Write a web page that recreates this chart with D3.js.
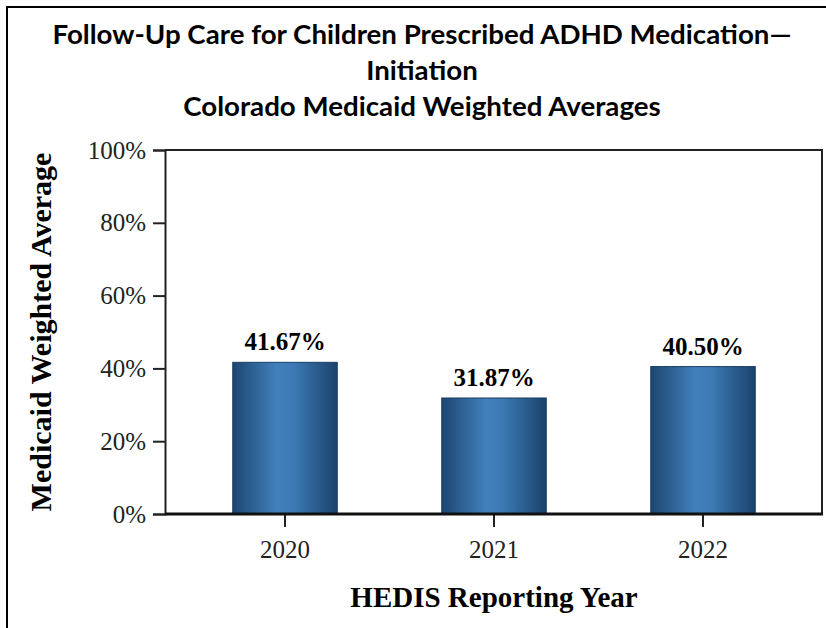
<!DOCTYPE html>
<html>
<head>
<meta charset="utf-8">
<script src="https://cdn.jsdelivr.net/npm/d3@7"></script>
<style>
  html, body { margin: 0; padding: 0; background: #fff; }
  svg { display: block; }
</style>
</head>
<body>
<svg id="chart" width="826" height="628"></svg>
<script>
// ---- data ----
const titleLines = ["Follow-Up Care for Children Prescribed ADHD Medication\u2014", "Initiation", "Colorado Medicaid Weighted Averages"];
const categories = ["2020", "2021", "2022"];
const values = [41.67, 31.87, 40.50];
const yTicks = [0, 20, 40, 60, 80, 100];
const yAxisTitle = "Medicaid Weighted Average";
const xAxisTitle = "HEDIS Reporting Year";

// ---- layout ----
const W = 826, H = 628;
const plot = { left: 165, right: 822, top: 150, bottom: 514 };
const serif = "'Liberation Serif', 'Times New Roman', Times, serif";

const svg = d3.select("#chart");

// gradient for bars
const defs = svg.append("defs");
const grad = defs.append("linearGradient").attr("id", "barGrad")
  .attr("x1", "0%").attr("x2", "100%").attr("y1", "0%").attr("y2", "0%");
grad.append("stop").attr("offset", "0%").attr("stop-color", "#1c4671");
grad.append("stop").attr("offset", "42%").attr("stop-color", "#4180bc");
grad.append("stop").attr("offset", "58%").attr("stop-color", "#3d7ab5");
grad.append("stop").attr("offset", "100%").attr("stop-color", "#1a426b");

// outer border (left and top visible)
svg.append("line").attr("x1", 7).attr("x2", 7).attr("y1", 6).attr("y2", H)
  .attr("stroke", "#000").attr("stroke-width", 2);
svg.append("line").attr("x1", 6).attr("x2", W).attr("y1", 7).attr("y2", 7)
  .attr("stroke", "#000").attr("stroke-width", 2);

// title
const titleY = [44, 80, 116];
const titleG = svg.append("g");
const tNodes = titleLines.map((t, i) => titleG.append("text")
  .attr("x", 422).attr("y", titleY[i])
  .attr("text-anchor", "middle")
  .attr("font-family", "Lato, 'Open Sans', sans-serif")
  .attr("font-weight", 700)
  .attr("font-size", 26)
  .attr("fill", "#000")
  .text(t));
const nat0 = tNodes[0].node().getComputedTextLength();
const factor = 739 / nat0;
tNodes.forEach(n => {
  const w = n.node().getComputedTextLength();
  n.attr("textLength", w * factor).attr("lengthAdjust", "spacingAndGlyphs");
});

// scales
const x = d3.scaleBand().domain(categories).range([180.5, 807.5])
  .paddingInner(0.5).paddingOuter(0.25);
const y = d3.scaleLinear().domain([0, 100]).range([plot.bottom, plot.top]);

// bars
svg.append("g").selectAll("rect").data(values).join("rect")
  .attr("x", (d, i) => x(categories[i]))
  .attr("width", x.bandwidth())
  .attr("y", d => y(d))
  .attr("height", d => y(0) - y(d))
  .attr("fill", "url(#barGrad)")
  .attr("stroke", "#1a3d62")
  .attr("stroke-width", 1);

// value labels
svg.append("g").selectAll("text").data(values).join("text")
  .attr("x", (d, i) => x(categories[i]) + x.bandwidth() / 2)
  .attr("y", d => y(d) - 12)
  .attr("text-anchor", "middle")
  .attr("font-family", serif)
  .attr("font-weight", 700)
  .attr("font-size", 25)
  .attr("fill", "#000")
  .text(d => d3.format(".2f")(d) + "%");

// frame (top and right)
svg.append("path")
  .attr("d", `M${plot.left},${plot.top}H${plot.right}V${plot.bottom}`)
  .attr("fill", "none").attr("stroke", "#222").attr("stroke-width", 2);

// y axis
const yAxis = d3.axisLeft(y).tickValues(yTicks).tickSize(12).tickPadding(7)
  .tickFormat(d => d + "%");
const yg = svg.append("g").attr("transform", `translate(${plot.left},0)`).call(yAxis);
yg.select(".domain").attr("stroke", "#222").attr("stroke-width", 2);
yg.selectAll(".tick line").attr("stroke", "#222").attr("stroke-width", 2);
yg.selectAll(".tick text").attr("font-family", serif).attr("font-size", 25)
  .attr("fill", "#222").attr("dy", "0.32em");

// x axis
const xAxis = d3.axisBottom(x).tickSize(13).tickPadding(13);
const xg = svg.append("g").attr("transform", `translate(0,${plot.bottom})`).call(xAxis);
xg.select(".domain").remove();
xg.selectAll(".tick line").attr("stroke", "#222").attr("stroke-width", 2);
xg.selectAll(".tick text").attr("font-family", serif).attr("font-size", 25)
  .attr("fill", "#222").attr("dy", "0.71em");

// baseline (thick)
svg.append("line").attr("x1", plot.left).attr("x2", plot.right + 1)
  .attr("y1", plot.bottom).attr("y2", plot.bottom)
  .attr("stroke", "#111").attr("stroke-width", 3);

// axis titles
svg.append("text")
  .attr("transform", `translate(51,${(plot.top + plot.bottom) / 2}) rotate(-90)`)
  .attr("text-anchor", "middle")
  .attr("font-family", serif).attr("font-weight", 700).attr("font-size", 30)
  .attr("fill", "#000")
  .text(yAxisTitle);

svg.append("text")
  .attr("x", x(categories[1]) + x.bandwidth() / 2).attr("y", 607)
  .attr("text-anchor", "middle")
  .attr("font-family", serif).attr("font-weight", 700).attr("font-size", 29)
  .attr("fill", "#000")
  .text(xAxisTitle);
</script>
</body>
</html>
